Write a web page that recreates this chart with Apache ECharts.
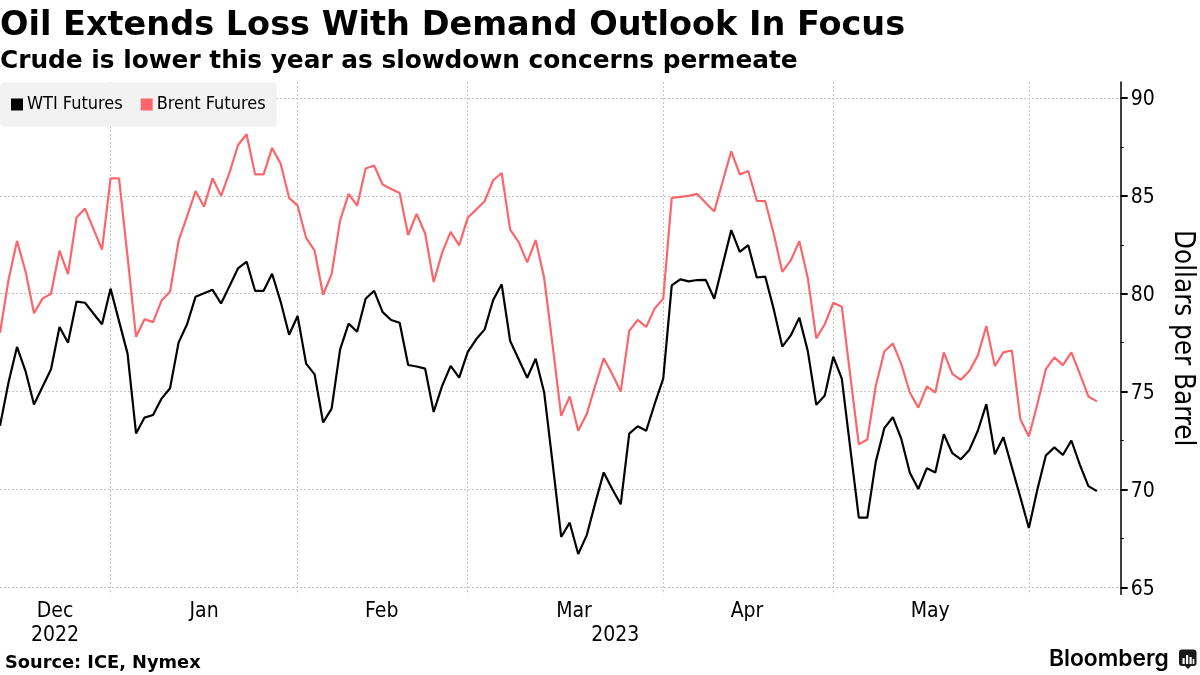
<!DOCTYPE html>
<html><head><meta charset="utf-8">
<style>html,body{margin:0;padding:0;background:#fff}#c{width:1200px;height:675px}</style>
<script src="https://cdn.jsdelivr.net/npm/echarts@6/dist/echarts.min.js"></script>
</head><body><div id="c"></div>
<script>
const wti = [73.25,75.46,77.28,76.05,74.34,75.25,76.14,78.3,77.5,79.6,79.54,78.98,78.44,80.26,78.6,76.94,72.86,73.67,73.8,74.64,75.17,77.5,78.44,79.85,80.02,80.2,79.5,80.4,81.3,81.64,80.15,80.15,81.02,79.6,77.9,78.86,76.43,75.88,73.42,74.13,77.16,78.47,78.06,79.74,80.15,79.06,78.66,78.52,76.36,76.28,76.17,73.96,75.29,76.31,75.71,77.02,77.67,78.18,79.68,80.48,77.58,76.65,75.71,76.68,74.95,71.3,67.57,68.3,66.7,67.65,69.3,70.87,70.02,69.24,72.85,73.23,73.0,74.38,75.66,80.43,80.73,80.63,80.7,80.71,79.74,81.5,83.25,82.14,82.48,80.83,80.87,79.2,77.3,77.87,78.78,77.07,74.32,74.8,76.78,75.66,72.1,68.56,68.56,71.42,73.13,73.69,72.58,70.85,70.02,71.08,70.87,72.82,71.85,71.54,72.02,73.0,74.36,71.8,72.67,71.13,69.6,68.03,70.0,71.73,72.15,71.76,72.5,71.25,70.17,69.91];
const brent = [78.0,80.7,82.7,81.15,79.0,79.75,80.0,82.2,81.0,83.9,84.35,83.3,82.25,85.9,85.9,81.9,77.8,78.7,78.55,79.65,80.1,82.7,83.95,85.25,84.45,85.9,85.0,86.2,87.6,88.15,86.1,86.1,87.45,86.65,84.9,84.5,82.85,82.2,79.95,81.0,83.75,85.1,84.5,86.4,86.55,85.58,85.35,85.15,83.0,84.08,83.08,80.6,82.1,83.16,82.47,83.88,84.3,84.73,85.8,86.17,83.28,82.64,81.6,82.74,80.8,77.33,73.76,74.75,73.0,73.85,75.3,76.7,75.9,75.0,78.1,78.66,78.3,79.25,79.75,84.9,84.95,85.0,85.1,84.64,84.2,85.75,87.28,86.1,86.27,84.75,84.73,83.05,81.12,81.7,82.69,80.8,77.72,78.44,79.54,79.34,75.8,72.3,72.55,75.3,77.05,77.46,76.4,74.95,74.18,75.26,74.95,77.0,75.9,75.6,76.05,76.85,78.35,76.3,77.0,77.1,73.58,72.7,74.35,76.15,76.75,76.35,77.0,75.9,74.75,74.5];
const monthStarts = [13,35,55,78,98,121];
const xLabelPos = {6.47:'Dec\n2022',24:'Jan',44.9:'Feb',67.5:'Mar',72.35:'\n2023',87.85:'Apr',109.4:'May'};
const yMajor = [65,70,75,80,85,90];
const yMinor = [67.5,72.5,77.5,82.5,87.5];
const titleText = 'Oil Extends Loss With Demand Outlook In Focus';
const subtitleText = 'Crude is lower this year as slowdown concerns permeate';
const sourceText = 'Source: ICE, Nymex';
const yName = 'Dollars per Barrel';

const FONT = '"DejaVu Sans Condensed","DejaVu Sans",sans-serif';
const BOLD = '"DejaVu Sans","Liberation Sans",sans-serif';
const grid = '#c6c6c6';
const yMin = 64.63, yMax = 90.82;
const logoBars = [[1182.5,658,2.2,6],[1186,655,2.2,9],[1189.5,657,2.2,7],[1192.7,659,1.6,5]];
const chart = echarts.init(document.getElementById('c'), null, {renderer:'canvas'});
chart.setOption({
  animation:false,
  backgroundColor:'#fff',
  title:[
    {text:titleText,left:0,top:9,textStyle:{fontFamily:BOLD,fontWeight:'bold',fontSize:33.5,color:'#000'},padding:0},
    {text:subtitleText,left:0,top:49,textStyle:{fontFamily:BOLD,fontWeight:'bold',fontSize:24.8,color:'#000'},padding:0},
    {text:sourceText,left:5,top:654,textStyle:{fontFamily:BOLD,fontWeight:'bold',fontSize:17.8,color:'#000'},padding:0}
  ],
  legend:{
    left:0,top:82.5,padding:[13,11,13,11],backgroundColor:'#f2f2f2',borderRadius:4,
    itemWidth:12,itemHeight:12,itemGap:18,icon:'rect',
    textStyle:{fontFamily:FONT,fontSize:18,color:'#000',padding:[0,0,0,-1]},
    data:['WTI Futures','Brent Futures']
  },
  grid:{left:0,top:82,width:1120.7,height:512.5,containLabel:false,outerBoundsMode:'none'},
  xAxis:{
    type:'value',min:0,max:131.8,
    axisLine:{show:false},
    axisTick:{show:false,customValues:monthStarts},
    splitLine:{show:true,lineStyle:{color:grid,type:[2,2],width:1}},
    axisLabel:{show:true,customValues:Object.keys(xLabelPos).map(Number),margin:5,lineHeight:24,
      fontFamily:FONT,fontSize:21,color:'#000',verticalAlign:'top',
      formatter:v=>xLabelPos[v]||''}
  },
  yAxis:[{
    type:'value',min:yMin,max:yMax,position:'right',
    name:yName,nameLocation:'middle',nameRotate:-90,nameGap:47,
    nameTextStyle:{fontFamily:FONT,fontSize:27.5,color:'#000',padding:[2,0,0,0]},
    axisLine:{show:true,onZero:false,lineStyle:{color:'#000',width:1.5}},
    axisTick:{show:true,length:7,lineStyle:{color:'#000',width:2},customValues:yMajor},
    splitLine:{show:true,lineStyle:{color:grid,type:[2,2],width:1}},
    axisLabel:{show:true,customValues:yMajor,margin:10,verticalAlign:'top',lineHeight:4,fontFamily:FONT,fontSize:21,color:'#000'}
  },{
    type:'value',min:yMin,max:yMax,position:'right',
    axisLine:{show:false,onZero:false},
    axisTick:{show:true,length:3,lineStyle:{color:'#000',width:1},customValues:yMinor},
    splitLine:{show:false},
    axisLabel:{show:false}
  }],
  series:[
    {name:'WTI Futures',type:'line',data:wti.map((v,i)=>[i,v]),symbol:'none',lineStyle:{color:'#000',width:2.2},itemStyle:{color:'#000'},z:3},
    {name:'Brent Futures',type:'line',data:brent.map((v,i)=>[i,v]),symbol:'none',lineStyle:{color:'#fb666b',width:2.2},itemStyle:{color:'#fb666b'},z:2}
  ],
  graphic:[
    {type:'text',left:1049,top:648,style:{text:'Bloomberg',font:'600 22.8px "Inter","Liberation Sans",sans-serif',fill:'#000'}},
    {type:'rect',shape:{x:1179,y:649.5,width:17.5,height:16.5,r:3},style:{fill:'#1a1a1a'}},
    {type:'polygon',shape:{points:[[1185,666],[1191,666],[1188,669]]},style:{fill:'#1a1a1a'}}
  ].concat(logoBars.map(b=>({type:'rect',shape:{x:b[0],y:b[1],width:b[2],height:b[3]},style:{fill:'#fff'},z:10})))
});
</script></body></html>
